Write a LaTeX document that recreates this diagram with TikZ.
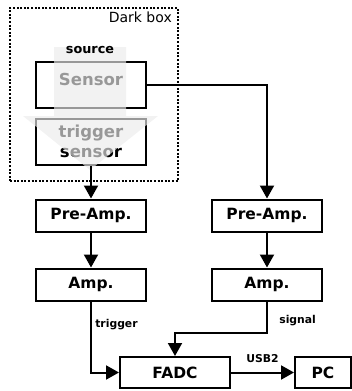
\documentclass[tikz,border=0pt]{standalone}
\usepackage{fontspec}
\setmainfont{DejaVu Sans}
\usetikzlibrary{arrows.meta,positioning}

\begin{document}
\begin{tikzpicture}[
  x=1pt, y=1pt,
  box/.style={draw, line width=2pt, minimum width=110pt, minimum height=32pt, inner sep=0pt, font=\fontsize{15.5}{18}\selectfont\bfseries},
  sensorbox/.style={box, minimum height=46pt, align=center, font=\fontsize{16.5}{20}\selectfont\bfseries},
  darkbox/.style={draw, line width=2pt, dash pattern=on 2pt off 1.6pt, minimum width=168pt, minimum height=173pt},
  note/.style={font=\fontsize{10.8}{12}\selectfont\bfseries},
  arr/.style={-{Triangle[length=13pt,width=14pt]}, line width=2pt},
  srcarrow/.style={fill=black!8, opacity=0.65}
]
\useasboundingbox (0,0) rectangle (351,-391);

% dark box with the two sensors
\node[darkbox] (dark) at (94,-94.5) {};
\node[anchor=north east, inner sep=0pt, font=\fontsize{14}{16}\selectfont] (darklabel)
  at ([xshift=-7pt,yshift=-4.5pt]dark.north east) {Dark box};

\node[sensorbox, text depth=10pt] (sensor) at (91,-84.5) {Sensor};
\node[sensorbox, below=9pt of sensor] (trigsensor) {trigger\\sensor};

% source shining down through both sensors
\fill[srcarrow] (54,-47) -- (126,-47) -- (126,-116) -- (158,-116) -- (90,-170)
  -- (23,-116) -- (54,-116) -- cycle;
\node[font=\fontsize{12.8}{14}\selectfont\bfseries] (source) at (90,-50) {source};

% amplifier chains
\node[box, below=33pt of trigsensor] (preampA) {Pre-Amp.};
\node[box, below=35pt of preampA] (ampA) {Amp.};
\node[box, right=64pt of preampA] (preampB) {Pre-Amp.};
\node[box, right=64pt of ampA] (ampB) {Amp.};

\node[box, minimum height=31pt] (fadc) at (175,-372.5) {FADC};
\node[box, minimum width=56pt, minimum height=31pt, right=63pt of fadc] (pc) {PC};

\draw[arr] (sensor.east) -| (preampB.north);
\draw[arr] (trigsensor.south) -- (preampA.north);
\draw[arr] (preampA) -- (ampA);
\draw[arr] (preampB) -- (ampB);
\draw[arr] (ampA.south) |- node[note, right, pos=0.16] (triglabel) {trigger} (fadc.west);
\draw[arr] (ampB.south) -- node[note, right, pos=0.6, xshift=8pt] (siglabel) {signal} ++(0,-31) -| (fadc.north);
\draw[arr] (fadc) -- node[note, above=6pt] (usblabel) {USB2} (pc);

\end{tikzpicture}
\end{document}
